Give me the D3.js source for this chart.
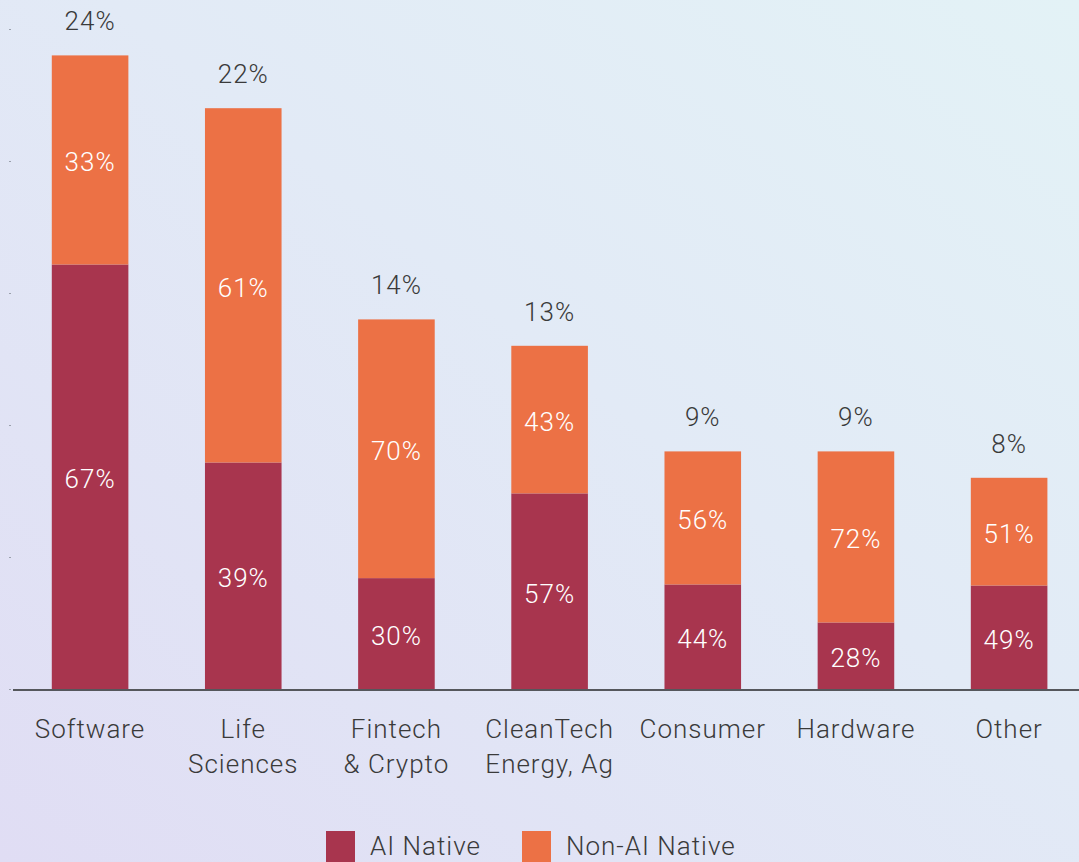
<!DOCTYPE html>
<html>
<head>
<meta charset="utf-8">
<script src="https://cdn.jsdelivr.net/npm/d3@7"></script>
<style>
  html, body { margin: 0; padding: 0; }
  body { width: 1079px; height: 862px; overflow: hidden; font-family: Roboto, "Noto Sans", sans-serif; }
  svg text { font-weight: 300; letter-spacing: 1px; }
</style>
</head>
<body>
<svg id="chart"></svg>
<script>
// data
const categories = ["Software", "Life\nSciences", "Fintech\n& Crypto", "CleanTech\nEnergy, Ag", "Consumer", "Hardware", "Other"];
const totalShare = [24, 22, 14, 13, 9, 9, 8];
const aiNative = [67, 39, 30, 57, 44, 28, 49];
const nonAiNative = [33, 61, 70, 43, 56, 72, 51];
const yTicks = [0, 5, 10, 15, 20, 25];
const legendLabels = ["AI Native", "Non-AI Native"];

const width = 1079, height = 862;
const colors = { ai: "#a8354e", nonAi: "#ec7145" };
const fontSize = "26px";

const svg = d3.select("#chart")
    .attr("width", width)
    .attr("height", height);

// soft background wash
const defs = svg.append("defs");
const grad = defs.append("linearGradient")
    .attr("id", "bg")
    .attr("x1", "0%").attr("y1", "100%")
    .attr("x2", "100%").attr("y2", "0%");
grad.append("stop").attr("offset", "0%").attr("stop-color", "#e0ddf4");
grad.append("stop").attr("offset", "55%").attr("stop-color", "#e2eaf6");
grad.append("stop").attr("offset", "100%").attr("stop-color", "#e3f2f6");
svg.append("rect").attr("width", width).attr("height", height).attr("fill", "url(#bg)");

// scales
const x = d3.scaleBand()
    .domain(categories)
    .range([13.5, 1085.7])
    .paddingInner(0.5)
    .paddingOuter(0.25);

const y = d3.scaleLinear()
    .domain([0, 25])
    .range([689, 29]);

// rows built from the arrays
const rows = categories.map((c, i) => ({
    cat: c,
    total: totalShare[i],
    ai: aiNative[i],
    nonAi: nonAiNative[i],
    aiTop: totalShare[i] * aiNative[i] / 100
}));

// tiny y ticks on the left
const yAxis = d3.axisLeft(y).tickValues(yTicks).tickSize(2).tickFormat("");
svg.append("g")
    .attr("transform", "translate(11,0)")
    .call(yAxis)
    .call(g => g.select(".domain").remove())
    .call(g => g.selectAll(".tick line").attr("stroke", "#9aa0ac"));

const bars = svg.append("g");

// AI native part (bottom)
bars.selectAll(".ai")
    .data(rows)
    .join("rect")
    .attr("class", "ai")
    .attr("x", d => x(d.cat))
    .attr("width", x.bandwidth())
    .attr("y", d => y(d.aiTop))
    .attr("height", d => y(0) - y(d.aiTop))
    .attr("fill", colors.ai);

// non-AI part (top)
bars.selectAll(".nonai")
    .data(rows)
    .join("rect")
    .attr("class", "nonai")
    .attr("x", d => x(d.cat))
    .attr("width", x.bandwidth())
    .attr("y", d => y(d.total))
    .attr("height", d => y(d.aiTop) - y(d.total))
    .attr("fill", colors.nonAi);

// labels inside segments
const cx = d => x(d.cat) + x.bandwidth() / 2;
bars.selectAll(".ai-lbl")
    .data(rows)
    .join("text")
    .attr("x", cx)
    .attr("y", d => (y(0) + y(d.aiTop)) / 2 + 2)
    .attr("dy", "0.36em")
    .attr("text-anchor", "middle")
    .attr("fill", "#fff")
    .style("font-size", fontSize)
    .text(d => d.ai + "%");

bars.selectAll(".nonai-lbl")
    .data(rows)
    .join("text")
    .attr("x", cx)
    .attr("y", d => (y(d.aiTop) + y(d.total)) / 2 + 2)
    .attr("dy", "0.36em")
    .attr("text-anchor", "middle")
    .attr("fill", "#fff")
    .style("font-size", fontSize)
    .text(d => d.nonAi + "%");

// totals above bars
bars.selectAll(".total-lbl")
    .data(rows)
    .join("text")
    .attr("x", cx)
    .attr("y", d => y(d.total) - 25)
    .attr("text-anchor", "middle")
    .attr("fill", "#3a3a3a")
    .style("font-size", fontSize)
    .text(d => d.total + "%");

// baseline
svg.append("line")
    .attr("x1", 13).attr("x2", width)
    .attr("y1", y(0) + 1).attr("y2", y(0) + 1)
    .attr("stroke", "#55575c")
    .attr("stroke-width", 2);

// category labels (two lines where needed)
const xLabels = svg.append("g");
xLabels.selectAll("text")
    .data(rows)
    .join("text")
    .attr("x", cx)
    .attr("y", 738)
    .attr("text-anchor", "middle")
    .attr("fill", "#3a3a3a")
    .style("font-size", fontSize)
    .each(function(d) {
        const lines = d.cat.split("\n");
        d3.select(this).selectAll("tspan")
            .data(lines)
            .join("tspan")
            .attr("x", cx(d))
            .attr("dy", (l, i) => i === 0 ? 0 : 35)
            .text(l => l);
    });

// legend
const legend = svg.append("g").attr("transform", "translate(326,831)");
const legendColors = [colors.ai, colors.nonAi];
const legendX = [0, 196];
legendLabels.forEach((lbl, i) => {
    const g = legend.append("g").attr("transform", `translate(${legendX[i]},0)`);
    g.append("rect").attr("width", 29).attr("height", 31).attr("fill", legendColors[i]);
    g.append("text")
        .attr("x", 44)
        .attr("y", 24)
        .attr("fill", "#3a3a3a")
        .style("font-size", fontSize)
        .text(lbl);
});
</script>
</body>
</html>
